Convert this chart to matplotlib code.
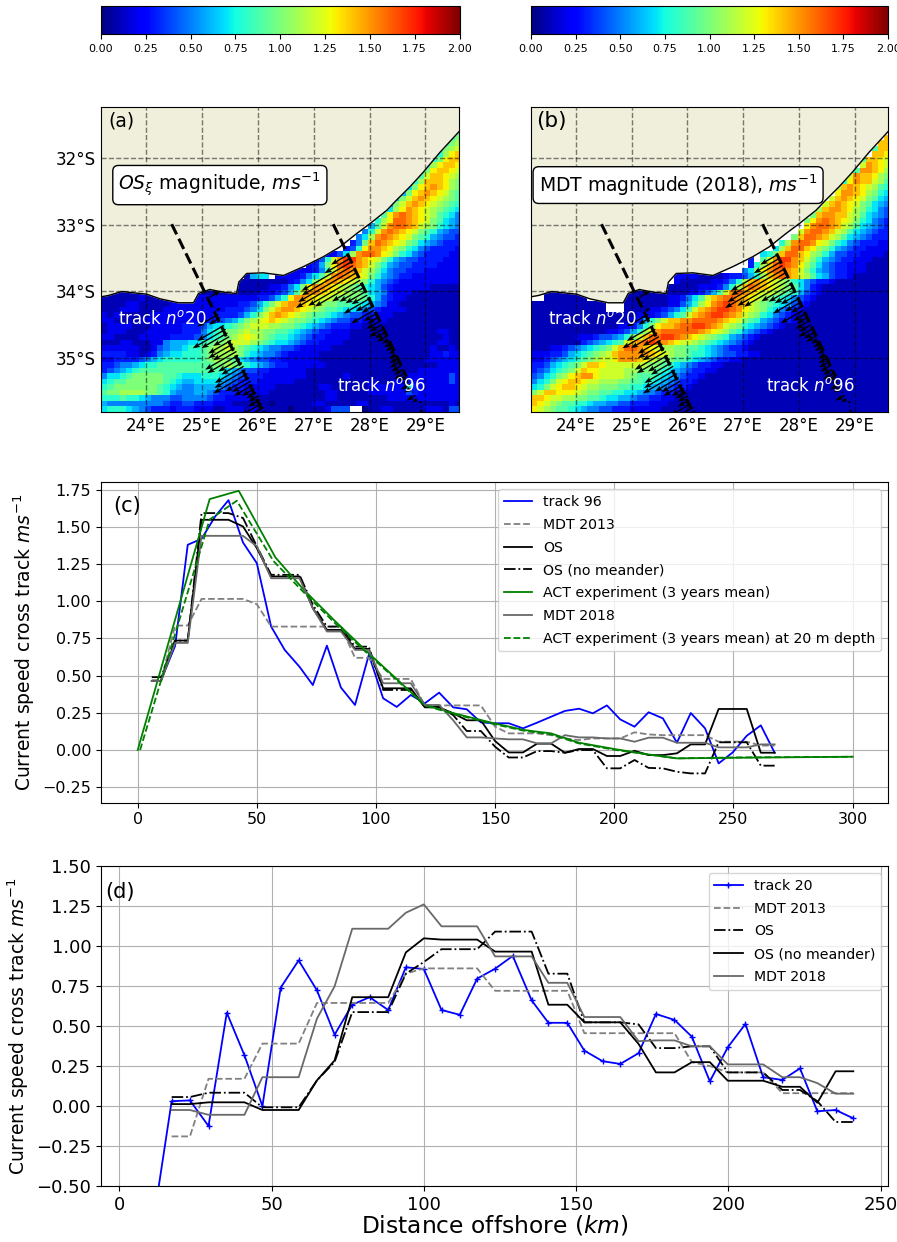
import matplotlib
matplotlib.use('Agg')
import matplotlib.pyplot as plt
import numpy as np

# (a) surface speed, rows from north to south, 0.1 m/s per step (base 36), "." is no data
# each row is "first column:values", the rest of the row repeats the last value
rows_a = [
"58:", "58:", "58:", "58:",
"57:9", "56:8a", "55:8ab", "54:7abc", "54:8bde", "53:8adee", "52:8bdeed", "51:7adeedc", "51:9ceedcb",
"50:8beeedba", "49:7adefedba", "48:6adefedca9", "47:6acefedcba9", "46:5acefedcba98", "46:7bdfedcba987",
"45:9dfgfedcb9875", "44:8bdggfedca9765", "43:69cfggfecba8765", "42:58cfgfedca986544", "41:57bfgfedca9865443",
"40:35aegfedca97654333", "39:348dffedba875433332", "36:2247bfggfdca8754333322", "33:2248cfhhfedca8654433332222",
"33:236adghgfeca865443333222222", "29:22222358cfgfecb975443332222222",
"23:1677.2222" + "3579cfgfedca865433" + "22222222",
"22:11111111" + "2" + "357adffedcba86543" + "2222222222",
"22:1111122" + "357adffedcba9876432" + "2222211111",
"0:1111111111111111111111" + "111222" + "3469cffedccbaa976532" + "2211111111",
"0:111111211122111" + "22222222" + "2233" + "468dffedccbaaaa986432" + "2111111111",
"0:1111221111122222" + "22222233" + "468aceffedcbaa9988765422" + "1111111111",
"0:1112221111222" + "2222222333" + "457aceffedcba99877654" + "32" + "222111111111",
"0:21211111" + "222222222233" + "33468acefedcba99876544332" + "2211111111111",
"0:221111222222222223" + "34568abcdedcbaa9876544332" + "222111111111111",
"0:1222211122222333" + "467789abcccbbaa9876543332" + "21111111111111111",
"0:12221112222223" + "335789aabcbbaa9987654332" + "22111111111111112211",
"0:2211112222" + "233334578" + "9abcdcba9887654332" + "222111111111111111211",
"0:1112211122" + "56667" + "789aabcccba9877654332" + "2221111111111111112211",
"0:222222112" + "4566" + "788" + "9abbcba98765544322" + "222111111111111111121121",
"0:333322123" + "567788" + "89abbbba876554322" + "2221111111111111111112232",
"0:22333345" + "67888888" + "9abba9765443322" + "222211111111111111111222222",
"0:334556788999999999aaba98765433" + "22" + "2222111111111111111111222242",
"0:34567899999999999998765443322" + "22221111111111111111112222222",
"0:5778 9aaaaa99877788876543332".replace(" ", "") + "2" + "222221111112111111112222222242",
"0:7899aaaaaa98766777765433322" + "2222111111111111211122322222242",
"0:89aaaaaaa987655666654332 2".replace(" ", "") + "222111111122111111222222" + "7" + "32222222",
"0:9aabbbbaa98655566543332 2".replace(" ", "") + "2221111111112211111222222" + "43" + "2222222",
"0:88898876555445555433222" + "21111111111112211111111222222222222",
"0:655555555543344333222" + "1111110111111221111122111111111111121",
"0:78887654333233322211" + "22212111110111" + "112444" + ".." + "0" + "112211111222144",
]

# (b) MDT 2018 speed, same layout
rows_b = [
"58:", "58:", "58:", "58:", "58:",
"57:e", "56:ee", "55:9ee", "55:eed", "53:9eedc", "53:cfedc", "52:9ffedb", "51:cfeedba",
"50:8dfeecb9", "49:befedcb98", "49:dffedba87", "48:cefedca976", "47:cefedca9765", "46:beffedba8754",
"45:aeffeecb97654", "44:adfgfedca87543", "44:dfggfecb976543", "43:cfggfecb9765433", "42:aeggfecb97654333",
"40:8bfggfdca875433322", "39:7beggedba8654332222", "37:78aeggedba86443322221", "35:3.9cfhhfeca865433222111",
"35:38beghgfdb975433222111", "34:57adfggfeca8654332221111",
"23:22221111233468" + "befgfecb97643" + "32" + "1",
"23:21111122" + "358befedcba87543" + "3" + "2" + "1",
"22:111112223" + "58begfedcba97532" + "1",
"0:1111111111111111111111" + "1112234" + "69cfgfedccba98643" + "21",
"0:..1111111...1111111111" + "223" + "579cefggfedcba987543" + "21",
"0:111111111111...1111111" + "22" + "468bdfghgfecba9876432" + "1",
"0:111111111111...111122" + "34579cefghhgfdcba875432" + "1",
"0:111111111111111112223" + "468" + "9cefghhgfecba875432" + "1",
"0:11111111111111112" + "368aceeffggggfedca98654332" + "1",
"0:111111111111112" + "2358adeefgghhgfecba8765432" + "1",
"0:11111111111122" + "3468bdfggggggfedcb9865432" + "1",
"0:11111112" + "223445" + "68acegghhgfedcba9865432" + "1",
"0:11111111" + "3456789cefghgfedccba98765432" + "1",
"0:111223456789ace" + "ggfedcbbaa9987654332" + "1",
"0:2223346789abcefffffedcbaa988765443322" + "1",
"0:223456789abccdfffedcbaa99876543322" + "1",
"0:334678 9aceedcccccc baa9876543322".replace(" ", "") + "1",
"0:345789aceddccccbbaaa9876543322" + "1",
"0:4578abdeffdccccba99987654332" + "1",
"0:578acdeedccbbbaa99887654332" + "1",
"0:78acdeedcbbaaa998876654332" + "1",
"0:aceedddcbaa998877655433 2".replace(" ", "") + "1",
"0:eedccbbaa99877665443322" + "1",
"0:edcba99887665544333222" + "1",
"0:dcba998765544333222221",
]

coast_lon = [23.195, 23.33, 23.57, 23.77, 24.01, 24.25, 24.58, 24.85, 24.94, 25.14, 25.38, 25.62, 25.66, 25.80,
             26.10, 26.46, 26.81, 27.17, 27.47, 27.77, 28.01, 28.31, 28.48, 28.72, 28.96, 29.26, 29.60]
coast_lat = [-34.08, -34.06, -34.00, -34.02, -34.04, -34.11, -34.17, -34.17, -34.03, -33.97, -34.01, -34.03, -33.86, -33.73,
             -33.72, -33.76, -33.63, -33.48, -33.33, -33.13, -32.98, -32.78, -32.63, -32.43, -32.21, -31.91, -31.60]

# panel (c), along track 96
dist_c = [5.9, 9.8, 15.7, 21, 26.8, 32.5, 38.1, 44.2, 50, 56, 61.7, 67.9, 73.5, 79.4, 85.3, 91.2, 97, 103, 108.7, 114.6,
          120.5, 126.5, 132.4, 138.1, 144, 150, 155.7, 161.7, 167.6, 173.5, 179.3, 185.2, 191, 196.9, 202.5, 208.5,
          214.4, 220.4, 226.3, 232.1, 238.1, 243.8, 249.7, 255.6, 261.5, 267.3]
track96 = [0.47, 0.7, 1.38, 1.42, 1.57, 1.68, 1.395, 1.256, 0.83, 0.673, 0.56, 0.437, 0.702, 0.42, 0.303, 0.64, 0.348,
           0.29, 0.37, 0.314, 0.386, 0.287, 0.274, 0.186, 0.18, 0.18, 0.146, 0.184, 0.224, 0.263, 0.278, 0.247, 0.3,
           0.206, 0.157, 0.254, 0.213, 0.05, 0.249, 0.146, -0.09, -0.016, 0.096, 0.166, -0.018]
mdt13_c = [.47, .47, .837, .837, 1.016, 1.016, 1.016, 1.016, .98, .83, .83, .83, .83, .83, .83, .62, .62, .478, .478, .478,
           .3, .3, .3, .3, .3, .157, .112, .112, .112, .1, .078, .067, .078, .078, .078, .119, .105, .1, .1, .1, .1,
           .056, .056, .056, .03, .03]
os_c = [.464, .464, .736, .736, 1.548, 1.548, 1.548, 1.503, 1.357, 1.167, 1.167, 1.167, .953, .808, .808, .68, .68, .415,
        .415, .415, .287, .287, .247, .2, .2, .06, -.016, -.016, .043, .043, -.018, .007, .007, -.04, -.04, -.005, -.034,
        -.034, -.022, .038, .038, .276, .276, .276, -.018, -.018]
osn_c = [.49, .49, .736, .736, 1.593, 1.593, 1.593, 1.56, 1.37, 1.178, 1.178, 1.178, .976, .83, .83, .695, .695, .404, .404,
         .404, .29, .29, .235, .128, .128, .022, -.05, -.05, -.007, -.007, -.018, 0, 0, -.123, -.123, -.067, -.12, -.123,
         -.146, -.157, -.157, .052, .052, .052, -.105, -.105]
mdt18_c = [.464, .464, .72, .72, 1.44, 1.44, 1.44, 1.44, 1.37, 1.155, 1.155, 1.155, .953, .797, .797, .673, .673, .449, .449,
           .449, .303, .303, .2, .085, .085, .078, .072, .072, .045, .045, .1, .085, .085, .078, .078, .056, .083, .083,
           .049, .049, .049, .018, .018, .018, .038, .038]
dist_act = [0, 30.2, 42.4, 57.8, 69.7, 83, 97, 120.5, 132, 148, 162, 173.5, 185, 200, 214.4, 226.3, 250, 300]
act = [0, 1.687, 1.743, 1.295, 1.077, .864, .65, .303, .25, .186, .135, .112, .05, .007, -.03, -.056, -.052, -.045]
dist_act20 = [1, 30.2, 41.6, 57, 69.7, 83, 97, 120.5, 132, 148, 162, 173.5, 185, 200, 214.4, 226.3, 250, 300]
act20 = [0, 1.55, 1.676, 1.27, 1.06, .85, .64, .3, .245, .18, .13, .105, .045, .002, -.03, -.056, -.05, -.045]

# panel (d), along track 20
dist_d = [17.2, 23.2, 29.3, 35.3, 41.1, 47, 53, 58.9, 64.9, 70.7, 76.5, 82.2, 88.3, 94.1, 100, 105.8, 111.8, 117.5, 123.4,
          129.2, 135.4, 140.9, 147.1, 152.7, 158.7, 164.5, 170.5, 176.2, 182.3, 188, 193.9, 199.8, 205.6, 211.4, 217.7,
          223.5, 229.2, 235.2, 241]
track20_first = (11.3, -0.71)
track20 = [0.03, 0.035, -0.125, 0.583, 0.317, 0, 0.74, 0.91, 0.723, 0.446, 0.633, 0.68, 0.6, 0.867, 0.856, 0.6, 0.57, 0.796,
           0.858, 0.938, 0.66, 0.52, 0.52, 0.346, 0.28, 0.263, 0.33, 0.575, 0.538, 0.433, 0.154, 0.367, 0.513, 0.18, 0.163,
           0.235, -0.033, -0.025, -0.077]
mdt13_d = [-0.19, -0.19, 0.17, 0.17, 0.17, 0.39, 0.39, 0.39, 0.644, 0.644, 0.644, 0.644, 0.644, 0.827, 0.86, 0.86, 0.86, 0.86,
           0.72, 0.72, 0.72, 0.72, 0.72, 0.455, 0.455, 0.455, 0.455, 0.455, 0.455, 0.274, 0.25, 0.21, 0.21, 0.21, 0.08, 0.08,
           0.08, 0.08, 0.08]
os_d = [0.056, 0.056, 0.083, 0.083, 0.083, -0.008, -0.008, -0.008, 0.16, 0.275, 0.587, 0.587, 0.587, 0.827, 0.9, 0.98, 0.98,
        0.98, 1.09, 1.09, 1.09, 0.827, 0.827, 0.523, 0.523, 0.523, 0.51, 0.362, 0.362, 0.373, 0.373, 0.21, 0.21, 0.21, 0.1,
        0.1, 0.03, -0.1, -0.1]
osn_d = [0.012, 0.012, 0.023, 0.023, 0.023, -0.025, -0.025, -0.025, 0.16, 0.285, 0.68, 0.68, 0.68, 0.96, 1.048, 1.04, 1.04,
         1.04, 0.965, 0.965, 0.965, 0.633, 0.633, 0.523, 0.523, 0.523, 0.388, 0.21, 0.21, 0.274, 0.274, 0.158, 0.158, 0.158,
         0.12, 0.12, 0.02, 0.217, 0.217]
mdt18_d = [-0.025, -0.025, -0.055, -0.055, -0.055, 0.18, 0.18, 0.18, 0.546, 0.748, 1.108, 1.108, 1.108, 1.208, 1.26, 1.123,
           1.123, 1.123, 0.935, 0.935, 0.935, 0.77, 0.77, 0.556, 0.556, 0.556, 0.405, 0.41, 0.41, 0.373, 0.373, 0.26, 0.26,
           0.26, 0.18, 0.18, 0.143, 0.077, 0.077]

# track lines on the maps: lon, lat of both ends, and lon, lat where distance is 0
track20_line = ([24.46, 26.10], [-32.99, -35.82])
track96_line = ([27.35, 28.66], [-32.99, -35.28])
track20_origin = (25.10, -34.007)
track96_origin = (27.56, -33.356)
# small reversed arrow near the coast on track 20
track20_near_coast = (8, -0.3)


def px_axes(left, top, right, bottom):
    return fig.add_axes([left / 897, 1 - bottom / 1242, (right - left) / 897, (bottom - top) / 1242])


def read_grid(rows):
    grid = np.full((55, 58), np.nan)
    for i, row in enumerate(rows):
        start, vals = row.split(':')
        start = int(start)
        if not vals:
            continue
        vals = vals.ljust(58 - start, vals[-1])
        for j, ch in enumerate(vals[:58 - start]):
            if ch != '.':
                grid[i, start + j] = int(ch, 36) / 10
    return grid


def track_arrows(ax, origin, slope, dist, speed):
    lat = origin[1] - 0.0095 * np.array(dist)
    lon = origin[0] + slope * (lat - origin[1])
    speed = np.array(speed)
    ax.quiver(lon, lat, -0.86 * speed, -0.5 * speed, angles='uv', scale_units='inches', scale=2.38,
              width=0.0038, headwidth=4, headlength=5.5, headaxislength=4.5, color='k', zorder=5)


def draw_map(ax, cax, rows, title, box_x, label_y_ticks):
    lon_edges = 23.2 + np.arange(59) / 9
    lat_edges = -31.227 - np.arange(56) / 12
    mesh = ax.pcolormesh(lon_edges, lat_edges, read_grid(rows), cmap='jet', vmin=0, vmax=2, zorder=1)
    ax.fill(coast_lon + [29.6, 23.195], coast_lat + [-31.2, -31.2], color='#efefdb', zorder=2)
    ax.plot(coast_lon, coast_lat, color='k', lw=1, zorder=2)
    ax.set_xlim(23.195, 29.6)
    ax.set_ylim(-35.81, -31.23)
    ax.grid(color='k', alpha=0.5, ls='--', lw=1, zorder=3)
    ax.set_axisbelow(False)
    ax.set_xticks([24, 25, 26, 27, 28, 29])
    ax.set_xticklabels(['24°E', '25°E', '26°E', '27°E', '28°E', '29°E'], fontsize=12)
    ax.set_yticks([-32, -33, -34, -35])
    if label_y_ticks:
        ax.set_yticklabels(['32°S', '33°S', '34°S', '35°S'], fontsize=12)
    else:
        ax.set_yticklabels([])
    ax.tick_params(length=0)
    ax.plot(track20_line[0], track20_line[1], 'k--', lw=2.2, zorder=4)
    ax.plot(track96_line[0], track96_line[1], 'k--', lw=2.2, zorder=4)
    track_arrows(ax, track20_origin, -0.5795, [track20_near_coast[0]] + dist_d, [track20_near_coast[1]] + track20)
    track_arrows(ax, track96_origin, -0.572, dist_c[1:], track96)
    ax.text(box_x, 0.744, title, transform=ax.transAxes, fontsize=13.5, ha='center', va='center', zorder=6,
            bbox=dict(boxstyle='round', fc='white', ec='k'))
    ax.text(0.047, 0.306, r'track $n^o$20', transform=ax.transAxes, color='white', fontsize=12, va='center', zorder=6)
    ax.text(0.658, 0.085, r'track $n^o$96', transform=ax.transAxes, color='white', fontsize=12, va='center', zorder=6)
    cb = fig.colorbar(mesh, cax=cax, orientation='horizontal')
    cb.set_ticks([0, 0.25, 0.5, 0.75, 1, 1.25, 1.5, 1.75, 2])
    cb.ax.set_xticklabels(['0.00', '0.25', '0.50', '0.75', '1.00', '1.25', '1.50', '1.75', '2.00'], fontsize=8)


fig = plt.figure(figsize=(8.97, 12.42), dpi=100)

ax_a = px_axes(101, 107, 459, 412)
draw_map(ax_a, px_axes(101, 5.5, 459.5, 34), rows_a, r'$OS_{\xi}$ magnitude, $ms^{-1}$', 0.332, True)
ax_a.text(0.02, 0.955, '(a)', transform=ax_a.transAxes, fontsize=13.5, va='center', zorder=6)

ax_b = px_axes(531, 107, 888, 412)
draw_map(ax_b, px_axes(531, 5.5, 888, 34), rows_b, r'MDT magnitude (2018), $ms^{-1}$', 0.412, False)
ax_b.text(0.015, 0.955, '(b)', transform=ax_b.transAxes, fontsize=15.5, va='center', zorder=6)

ax_c = px_axes(101, 482.3, 888.3, 802.7)
ax_c.plot(dist_c[1:], track96, color='b', lw=1.3, label='track 96')
ax_c.plot(dist_c, mdt13_c, color='gray', ls='--', lw=1.3, label='MDT 2013')
ax_c.plot(dist_c, os_c, color='k', lw=1.3, label='OS')
ax_c.plot(dist_c, osn_c, color='k', ls='-.', lw=1.3, label='OS (no meander)')
ax_c.plot(dist_act, act, color='g', lw=1.3, label='ACT experiment (3 years mean)')
ax_c.plot(dist_c, mdt18_c, color='dimgray', lw=1.3, label='MDT 2018')
ax_c.plot(dist_act20, act20, color='g', ls='--', lw=1.3, label='ACT experiment (3 years mean) at 20 m depth')
ax_c.set_xlim(-15.4, 315)
ax_c.set_ylim(-0.354, 1.80)
ax_c.set_xticks([0, 50, 100, 150, 200, 250, 300])
ax_c.set_yticks([-0.25, 0, 0.25, 0.5, 0.75, 1, 1.25, 1.5, 1.75])
ax_c.set_yticklabels(['−0.25', '0.00', '0.25', '0.50', '0.75', '1.00', '1.25', '1.50', '1.75'])
ax_c.grid(True)
ax_c.tick_params(labelsize=11.5)
ax_c.set_ylabel(r'Current speed cross track $ms^{-1}$', fontsize=13.5)
ax_c.legend(loc='upper right', fontsize=10.2, labelspacing=0.62)
ax_c.text(0.015, 0.925, '(c)', transform=ax_c.transAxes, fontsize=15, va='center')

ax_d = px_axes(101, 866, 888, 1186)
ax_d.plot([track20_first[0]] + dist_d, [track20_first[1]] + track20, color='b', marker='+', ms=5, lw=1.3, label='track 20')
ax_d.plot(dist_d, mdt13_d, color='gray', ls='--', lw=1.3, label='MDT 2013')
ax_d.plot(dist_d, os_d, color='k', ls='-.', lw=1.3, label='OS')
ax_d.plot(dist_d, osn_d, color='k', lw=1.3, label='OS (no meander)')
ax_d.plot(dist_d, mdt18_d, color='dimgray', lw=1.3, label='MDT 2018')
ax_d.set_xlim(-6, 252.4)
ax_d.set_ylim(-0.5, 1.5)
ax_d.set_xticks([0, 50, 100, 150, 200, 250])
ax_d.set_yticks([-0.5, -0.25, 0, 0.25, 0.5, 0.75, 1, 1.25, 1.5])
ax_d.set_yticklabels(['−0.50', '−0.25', '0.00', '0.25', '0.50', '0.75', '1.00', '1.25', '1.50'])
ax_d.grid(True)
ax_d.tick_params(labelsize=13)
ax_d.set_ylabel(r'Current speed cross track $ms^{-1}$', fontsize=13.5)
ax_d.set_xlabel(r'Distance offshore ($km$)', fontsize=16.8, labelpad=0)
ax_d.legend(loc='upper right', fontsize=10.2, labelspacing=0.62)
ax_d.text(0.005, 0.92, '(d)', transform=ax_d.transAxes, fontsize=15, va='center')

fig.savefig('out.png', dpi=100)
